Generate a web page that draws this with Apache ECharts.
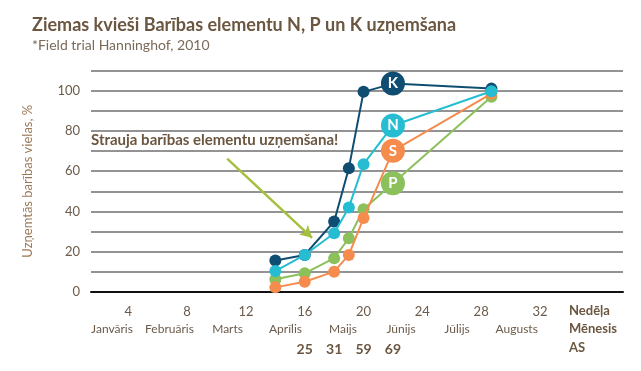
<!DOCTYPE html>
<html>
<head>
<meta charset="utf-8">
<script src="https://cdn.jsdelivr.net/npm/echarts@6/dist/echarts.min.js"></script>
<style>
html,body{margin:0;padding:0;background:#fff;}
#c{width:641px;height:371px;}
</style>
</head>
<body>
<div id="c"></div>
<script>
// ---- data ----
const weeks = [14, 16, 18, 19, 20, 22, 28.7];
const seriesNames = ['K', 'N', 'S', 'P'];
const K = [15.6, 18.4, 35, 61.5, 99.4, 103.5, 101];
const N = [10.4, 18.4, 29.2, 42, 63.5, 82.7, 99.7];
const S = [2.3, 5.1, 10.1, 18.4, 36.7, 70.1, 98.5];
const P = [6.3, 9.3, 16.8, 26.7, 41.1, 54, 97];
const labelIndex = 5; // point carrying the big letter badge
const weekTicks = [4, 8, 12, 16, 20, 24, 28, 32];
const monthNames = ['Janvāris', 'Februāris', 'Marts', 'Aprīlis', 'Maijs', 'Jūnijs', 'Jūlijs', 'Augusts'];
const monthPos = [2.89, 6.80, 10.75, 14.69, 18.6, 22.55, 26.36, 30.42];
const asWeeks = [16, 18, 20, 22];
const asValues = ['25', '31', '59', '69'];
const yTicks = [0, 20, 40, 60, 80, 100];
const arrowFrom = [10.72, 66.2];
const arrowTo = [16.5, 26.9];

const FONT = 'Lato';
const BROWN = '#6b5640';
const colors = { K: '#0f4e72', N: '#26bdd2', S: '#f68b4e', P: '#8cc05b' };
const XMIN = 1.46, XMAX = 37.65;

function mk(name, vals, z) {
  return {
    name: name,
    type: 'line',
    z: z,
    data: weeks.map((w, i) => [w, vals[i]]),
    symbol: 'circle',
    symbolSize: (v, p) => p.dataIndex === labelIndex ? 24 : 12,
    lineStyle: { color: colors[name], width: 2 },
    itemStyle: { color: colors[name] },
    label: {
      show: true,
      position: 'inside',
      formatter: p => p.dataIndex === labelIndex ? name : '',
      color: '#fff',
      fontFamily: FONT,
      fontWeight: 'bold',
      fontSize: 15
    },
    emphasis: { disabled: true },
    animation: false
  };
}

const series = [mk('P', P, 2), mk('S', S, 3), mk('K', K, 4), mk('N', N, 5)];
series[0].markLine = {
  silent: true,
  symbol: ['none', 'arrow'],
  symbolSize: [10, 12],
  label: { show: false },
  lineStyle: { color: '#a5bf3e', width: 2.5, type: 'solid' },
  data: [[{ coord: arrowFrom }, { coord: arrowTo }]],
  animation: false
};

const xBase = { type: 'value', min: XMIN, max: XMAX, axisTick: { show: false }, splitLine: { show: false }, position: 'bottom' };

const option = {
  animation: false,
  textStyle: { fontFamily: FONT },
  title: {
    text: 'Ziemas kvieši Barības elementu N, P un K uzņemšana',
    subtext: '*Field trial Hanninghof, 2010',
    left: 27, top: 11, itemGap: 4,
    textStyle: { fontFamily: FONT, fontSize: 18, fontWeight: 'bold', color: BROWN },
    subtextStyle: { fontFamily: FONT, fontSize: 14, color: '#7a6a5a' }
  },
  grid: { left: 91, right: 18, top: 70.5, bottom: 79 },
  xAxis: [
    Object.assign({}, xBase, {
      axisLine: { show: true, lineStyle: { color: '#111', width: 2 } },
      axisLabel: { customValues: weekTicks, margin: 13, fontSize: 13, color: '#6b5a4a', fontFamily: FONT }
    }),
    Object.assign({}, xBase, {
      axisLine: { show: false },
      axisLabel: { customValues: monthPos, margin: 31, fontSize: 12, color: '#6b5a4a', fontFamily: FONT,
        formatter: v => { const i = monthPos.indexOf(v); return i >= 0 ? monthNames[i] : ''; } }
    }),
    Object.assign({}, xBase, {
      axisLine: { show: false },
      axisLabel: { customValues: asWeeks, margin: 50, fontSize: 14, fontWeight: 'bold', color: BROWN, fontFamily: FONT,
        formatter: v => { const i = asWeeks.indexOf(v); return i >= 0 ? asValues[i] : ''; } }
    })
  ],
  yAxis: {
    type: 'value', min: 0, max: 110, interval: 10,
    name: 'Uzņemtās barības vielas, %',
    nameLocation: 'middle', nameGap: 57, nameRotate: 90,
    nameTextStyle: { color: '#9c7a58', fontSize: 13, fontFamily: FONT },
    axisLine: { show: false }, axisTick: { show: false },
    axisLabel: { customValues: yTicks, margin: 11, fontSize: 13, color: '#6b5a4a', fontFamily: FONT },
    splitLine: { show: true, lineStyle: { color: '#6f6f6f', width: 1.5 } }
  },
  graphic: [
    { type: 'text', left: 91, top: 133, z: 10, style: { text: 'Strauja barības elementu uzņemšana!', fill: BROWN, font: 'bold 15px ' + FONT } },
    { type: 'text', left: 569, top: 304, style: { text: 'Nedēļa', fill: BROWN, font: 'bold 13px ' + FONT } },
    { type: 'text', left: 569, top: 322, style: { text: 'Mēnesis', fill: BROWN, font: 'bold 13px ' + FONT } },
    { type: 'text', left: 569, top: 341, style: { text: 'AS', fill: BROWN, font: 'bold 13px ' + FONT } }
  ],
  series: series
};

const chart = echarts.init(document.getElementById('c'), null, { renderer: 'canvas' });
chart.setOption(option);
</script>
</body>
</html>
